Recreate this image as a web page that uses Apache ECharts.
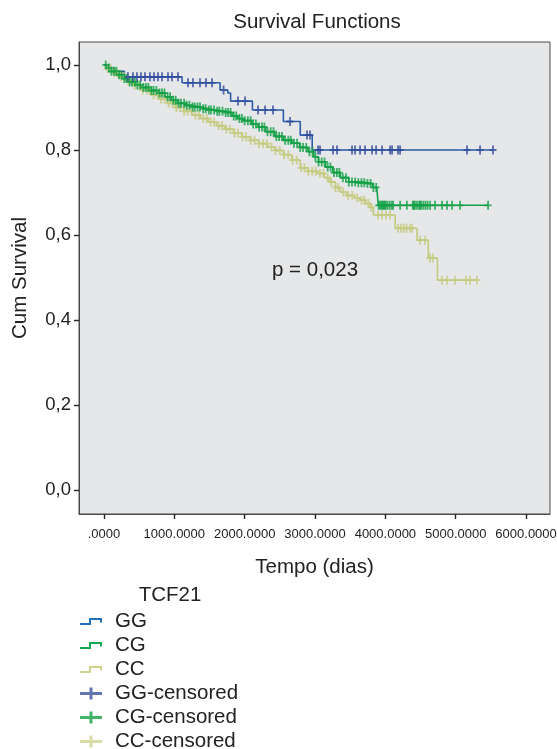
<!DOCTYPE html>
<html>
<head>
<meta charset="utf-8">
<script src="https://cdn.jsdelivr.net/npm/echarts@6/dist/echarts.min.js"></script>
<style>
html,body{margin:0;padding:0;background:#fff;}
#chart{width:557px;height:749px;}
</style>
</head>
<body>
<div id="chart"></div>
<script>
// ---- data (days, cumulative survival) ----
const xTicks = [0, 1000, 2000, 3000, 4000, 5000, 6000];
const yTicks = [0, 0.2, 0.4, 0.6, 0.8, 1.0];

const ggCurve = [[0,1.000],[60,0.993],[150,0.985],[290,0.972],[1110,0.958],[1650,0.941],[1760,0.934],[1800,0.915],[2110,0.894],[2550,0.867],[2790,0.835],[2960,0.800],[5530,0.800]];
const cgCurve = [[0,1.000],[40,0.993],[100,0.985],[180,0.977],[260,0.968],[350,0.960],[450,0.953],[540,0.947],[650,0.940],[770,0.934],[870,0.925],[960,0.917],[1050,0.910],[1150,0.905],[1250,0.901],[1370,0.897],[1480,0.894],[1600,0.891],[1720,0.888],[1820,0.880],[1900,0.874],[1980,0.869],[2100,0.861],[2190,0.854],[2300,0.843],[2430,0.832],[2550,0.823],[2670,0.816],[2780,0.806],[2900,0.796],[2980,0.784],[3050,0.772],[3150,0.760],[3250,0.747],[3360,0.735],[3480,0.725],[3600,0.723],[3740,0.721],[3820,0.712],[3880,0.706],[3900,0.670],[5460,0.670]];
const ccCurve = [[0,1.000],[40,0.992],[110,0.982],[200,0.972],[300,0.963],[420,0.952],[540,0.941],[660,0.930],[780,0.920],[900,0.910],[1010,0.900],[1130,0.891],[1250,0.882],[1370,0.874],[1480,0.866],[1600,0.857],[1720,0.849],[1840,0.840],[1960,0.831],[2080,0.823],[2200,0.815],[2320,0.807],[2430,0.799],[2550,0.789],[2670,0.776],[2790,0.758],[2900,0.750],[3030,0.745],[3130,0.735],[3210,0.725],[3290,0.712],[3360,0.701],[3450,0.693],[3560,0.687],[3640,0.682],[3720,0.674],[3790,0.665],[3830,0.647],[4140,0.616],[4450,0.588],[4610,0.546],[4740,0.494],[5300,0.494]];

const ggCensor = [341,412,469,526,583,654,711,768,825,910,967,1052,1194,1265,1365,1450,1536,1700,1905,2005,2190,2290,2403,2645,2886,2929,3043,3071,3256,3313,3526,3569,3640,3711,3811,3868,3953,4067,4095,4180,4209,5161,5346,5530];
const cgCensor = [25,70,105,140,175,215,250,290,320,365,400,440,475,515,560,595,630,675,705,745,790,825,860,905,940,985,1020,1060,1095,1140,1175,1215,1260,1290,1330,1365,1410,1445,1490,1520,1565,1610,1640,1685,1730,1765,1800,1845,1880,1925,1960,2000,2045,2085,2120,2160,2205,2245,2280,2325,2370,2410,2450,2490,2530,2575,2620,2655,2700,2745,2790,2830,2875,2920,2965,3005,3050,3095,3135,3180,3220,3270,3310,3345,3395,3440,3480,3525,3570,3615,3660,3700,3745,3790,3830,3870,3905,3925,3945,3960,3975,3990,4005,4030,4060,4090,4110,4210,4305,4390,4405,4420,4450,4480,4495,4510,4540,4570,4600,4635,4705,4805,4876,4948,5062,5460];
const ccCensor = [50,95,150,190,245,290,345,390,440,500,550,610,650,705,760,810,860,920,975,1030,1080,1140,1190,1245,1300,1350,1410,1460,1515,1565,1630,1680,1740,1790,1855,1905,1970,2020,2085,2140,2200,2260,2315,2380,2440,2500,2560,2620,2680,2740,2800,2850,2905,2960,3010,3070,3120,3180,3230,3290,3330,3400,3470,3530,3600,3660,3700,3760,3800,3896,3953,4010,4067,4180,4220,4260,4300,4350,4380,4493,4564,4635,4678,4805,4876,4991,5147,5204,5300];

const lineColors = {GG: '#2a5ca8', CG: '#14a048', CC: '#c4ca7e'};
const crossColors = {GG: '#2f4a9c', CG: '#11a045', CC: '#c4ca7e'};

// ---- helpers ----
function survAt(curve, t) {
  let s = curve[0][1];
  for (const p of curve) { if (p[0] <= t) s = p[1]; }
  return s;
}
const crossSym = 'path://M0,3.6L2.6,3.6L2.6,0L4.4,0L4.4,3.6L7,3.6L7,5.4L4.4,5.4L4.4,9L2.6,9L2.6,5.4L0,5.4Z';
const stepIcon = 'path://M0,5L9,5L9,0L22,0L22,4.5L20,4.5L20,2L11,2L11,7L0,7Z';
const crossIcon = 'path://M0,4.5L9.5,4.5L9.5,0L12.5,0L12.5,4.5L22,4.5L22,7.5L12.5,7.5L12.5,12L9.5,12L9.5,7.5L0,7.5Z';

function lineSeries(name, curve) {
  return {
    name: name, type: 'line', step: 'end', data: curve,
    showSymbol: false, symbol: 'none', color: lineColors[name],
    lineStyle: {width: 1.6, color: lineColors[name]}, z: 2
  };
}
function censorSeries(key, curve, times) {
  return {
    name: key + '-censored', type: 'scatter',
    data: times.map(t => [t, survAt(curve, t)]),
    symbol: crossSym, symbolSize: [7, 9], color: crossColors[key],
    itemStyle: {color: crossColors[key]}, z: 3
  };
}

const font = "'Liberation Sans', Arial, Helvetica, sans-serif";
const chart = echarts.init(document.getElementById('chart'), null, {renderer: 'canvas'});
chart.setOption({
  animation: false,
  backgroundColor: '#ffffff',
  title: {
    text: 'Survival Functions', left: 312, top: 7, textAlign: 'center',
    textStyle: {fontFamily: font, fontSize: 20.5, fontWeight: 'normal', color: '#222'}
  },
  grid: {
    left: 79, top: 42, right: 7, bottom: 235, show: true,
    outerBoundsMode: 'none', containLabel: false,
    backgroundColor: '#e6e7e8', borderColor: '#4a4a4a', borderWidth: 1
  },
  xAxis: {
    type: 'value', min: -355, max: 6340,
    name: 'Tempo (dias)', nameLocation: 'middle', nameGap: 43,
    nameTextStyle: {fontFamily: font, fontSize: 20.5, color: '#222'},
    axisLine: {show: true, onZero: false, lineStyle: {color: '#4a4a4a', width: 1}},
    axisTick: {show: true, customValues: xTicks, length: 5, inside: false, lineStyle: {color: '#222', width: 1.4}},
    axisLabel: {
      customValues: xTicks, margin: 14, fontFamily: font, fontSize: 13, color: '#222',
      formatter: v => v === 0 ? '.0000' : v.toFixed(4)
    },
    splitLine: {show: false}
  },
  yAxis: {
    type: 'value', min: -0.056, max: 1.054,
    name: 'Cum Survival', nameLocation: 'middle', nameGap: 48, nameRotate: 90,
    nameTextStyle: {fontFamily: font, fontSize: 20.5, color: '#222'},
    axisLine: {show: true, onZero: false, lineStyle: {color: '#4a4a4a', width: 1}},
    axisTick: {show: true, customValues: yTicks, length: 5, inside: false, lineStyle: {color: '#222', width: 1.4}},
    axisLabel: {
      customValues: yTicks, margin: 8, fontFamily: font, fontSize: 18.5, color: '#222',
      formatter: v => v.toFixed(1).replace('.', ',')
    },
    splitLine: {show: false}
  },
  legend: {
    orient: 'vertical', left: 75, top: 606, height: 160, padding: 5,
    itemWidth: 22, itemHeight: 12, itemGap: 3, symbolKeepAspect: true,
    textStyle: {fontFamily: font, fontSize: 20.5, color: '#222', padding: [0, 0, 0, 8]},
    selectedMode: false,
    data: [
      {name: 'GG', icon: stepIcon, itemStyle: {color: '#1f6fb8'}},
      {name: 'CG', icon: stepIcon, itemStyle: {color: '#16a850'}},
      {name: 'CC', icon: stepIcon, itemStyle: {color: '#cfd38e'}},
      {name: 'GG-censored', icon: crossIcon, itemStyle: {color: '#3c51a0'}},
      {name: 'CG-censored', icon: crossIcon, itemStyle: {color: '#11a045'}},
      {name: 'CC-censored', icon: crossIcon, itemStyle: {color: '#cfd38e'}}
    ]
  },
  graphic: [
    {type: 'text', x: 170, y: 595,
     style: {text: 'TCF21', fontFamily: font, fontSize: 20.5, fill: '#222', align: 'center', verticalAlign: 'middle'}},
    {type: 'text', x: 315, y: 270,
     style: {text: 'p = 0,023', fontFamily: font, fontSize: 20.5, fill: '#222', align: 'center', verticalAlign: 'middle'}}
  ],
  series: [
    lineSeries('CC', ccCurve),
    censorSeries('CC', ccCurve, ccCensor),
    lineSeries('CG', cgCurve),
    censorSeries('CG', cgCurve, cgCensor),
    lineSeries('GG', ggCurve),
    censorSeries('GG', ggCurve, ggCensor)
  ]
});
</script>
</body>
</html>
